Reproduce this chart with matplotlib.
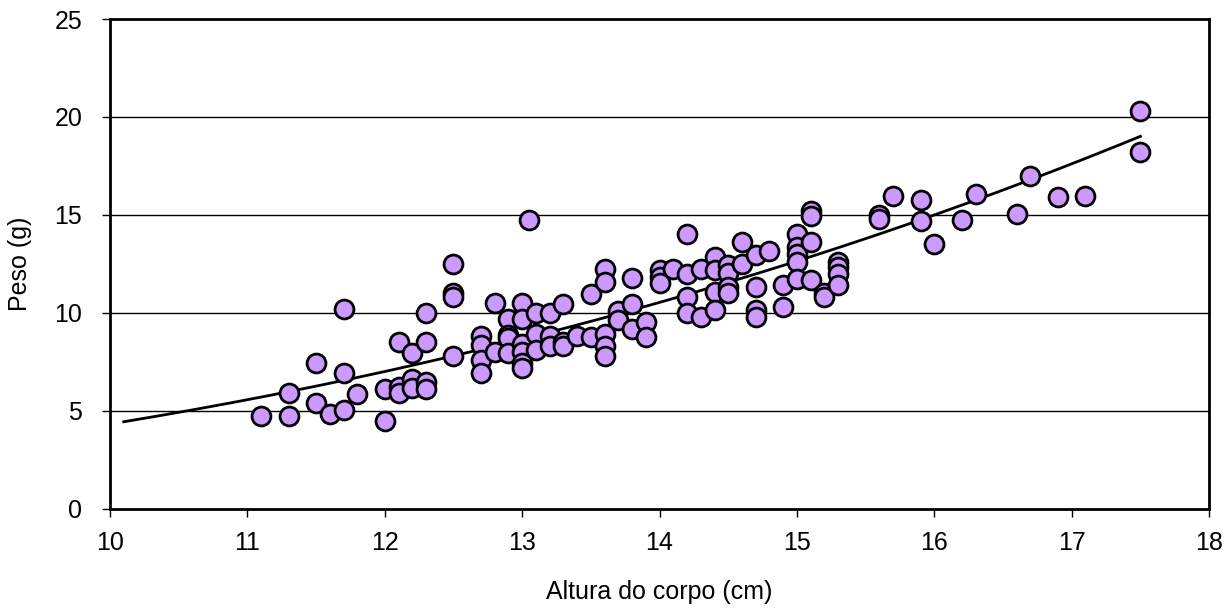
import matplotlib.pyplot as plt
import numpy as np

plt.rcParams['font.family'] = ['Liberation Sans', 'DejaVu Sans']

# altura do corpo (cm) e peso (g) de cada exemplar
altura = [11.1,
          11.3, 11.3,
          11.5, 11.5,
          11.6,
          11.7, 11.7, 11.7,
          11.8,
          12.0, 12.0,
          12.1, 12.1, 12.1,
          12.2, 12.2, 12.2,
          12.3, 12.3, 12.3, 12.3,
          12.5, 12.5, 12.5, 12.5,
          12.7, 12.7, 12.7, 12.7,
          12.8, 12.8,
          12.9, 12.9, 12.9, 12.9,
          13.0, 13.0, 13.0, 13.0, 13.0, 13.0,
          13.05,
          13.1, 13.1, 13.1,
          13.2, 13.2, 13.2,
          13.3, 13.3, 13.3,
          13.4,
          13.5, 13.5,
          13.6, 13.6, 13.6, 13.6, 13.6,
          13.7, 13.7,
          13.8, 13.8, 13.8,
          13.9, 13.9,
          14.0, 14.0, 14.0,
          14.1,
          14.2, 14.2, 14.2, 14.2,
          14.3, 14.3,
          14.4, 14.4, 14.4, 14.4,
          14.5, 14.5, 14.5, 14.5,
          14.6, 14.6,
          14.7, 14.7, 14.7, 14.7,
          14.8,
          14.9, 14.9,
          15.0, 15.0, 15.0, 15.0, 15.0,
          15.1, 15.1, 15.1, 15.1,
          15.2, 15.2,
          15.3, 15.3, 15.3, 15.3,
          15.6, 15.6,
          15.7,
          15.9, 15.9,
          16.0,
          16.2,
          16.3,
          16.6,
          16.7,
          16.9,
          17.1,
          17.5, 17.5]

peso = [4.75,
        4.75, 5.9,
        7.45, 5.4,
        4.85,
        10.2, 6.95, 5.05,
        5.85,
        4.45, 6.1,
        6.2, 5.9, 8.5,
        7.95, 6.6, 6.15,
        10.0, 8.5, 6.45, 6.1,
        12.5, 11.0, 10.8, 7.8,
        8.8, 8.35, 7.6, 6.95,
        10.5, 8.0,
        9.7, 8.85, 8.7, 7.95,
        10.5, 9.7, 8.4, 8.0, 7.45, 7.2,
        14.75,
        10.0, 8.9, 8.1,
        10.0, 8.8, 8.3,
        10.45, 8.5, 8.3,
        8.8,
        10.95, 8.75,
        12.25, 11.55, 8.9, 8.3, 7.8,
        10.1, 9.65,
        11.8, 10.45, 9.15,
        9.55, 8.75,
        12.2, 11.85, 11.5,
        12.25,
        14.0, 12.0, 10.8, 10.0,
        12.25, 9.8,
        12.85, 12.2, 11.05, 10.15,
        12.45, 12.05, 11.3, 11.0,
        13.6, 12.5,
        12.95, 11.3, 10.15, 9.8,
        13.15,
        11.4, 10.3,
        14.0, 13.35, 13.0, 12.6, 11.75,
        15.2, 14.95, 13.6, 11.7,
        11.0, 10.8,
        12.6, 12.35, 12.0, 11.4,
        15.0, 14.8,
        15.95,
        15.75, 14.7,
        13.5,
        14.75,
        16.05,
        15.05,
        17.0,
        15.9,
        15.95,
        20.3, 18.2]

x_ticks = [10, 11, 12, 13, 14, 15, 16, 17, 18]
y_ticks = [0, 5, 10, 15, 20, 25]

x = np.array(altura)
y = np.array(peso)

# linha de tendência potencial (y = a * x^b), ajustada em escala log-log
b, log_a = np.polyfit(np.log(x), np.log(y), 1)
xt = np.linspace(x.min() - 1.0, x.max(), 200)
yt = np.exp(log_a) * xt ** b

fig = plt.figure(figsize=(12.28, 6.15), dpi=100)
ax = fig.add_axes([0.0896, 0.173, 0.895, 0.796])

for v in y_ticks[1:-1]:
    ax.axhline(v, color='black', lw=1.0, zorder=1)

ax.plot(xt, yt, color='black', lw=2.0, zorder=2)
ax.scatter(x, y, s=185, c='#CC99FF', edgecolors='black', linewidths=2.0, zorder=3)

ax.set_xlim(10, 18)
ax.set_ylim(0, 25)
ax.set_xticks(x_ticks)
ax.set_yticks(y_ticks)
ax.tick_params(axis='both', direction='out', length=6, width=1.0, labelsize=18)
ax.tick_params(axis='x', pad=10)
ax.tick_params(axis='y', pad=14)

for s in ax.spines.values():
    s.set_linewidth(2.0)
    s.set_color('black')

ax.set_xlabel('Altura do corpo (cm)', fontsize=18, labelpad=18)
ax.set_ylabel('Peso (g)', fontsize=18, labelpad=16)

fig.savefig('out.png', dpi=100)
